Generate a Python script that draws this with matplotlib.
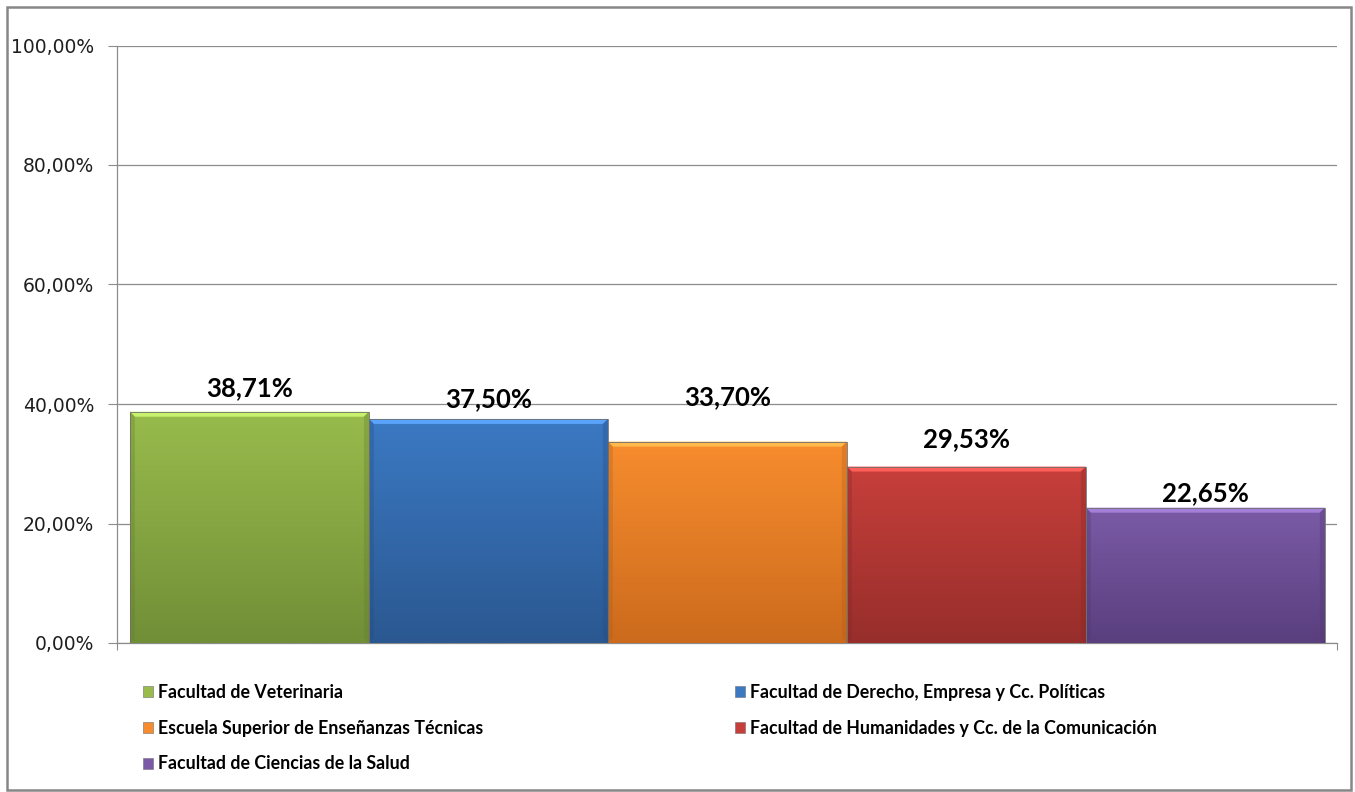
import numpy as np
import matplotlib
matplotlib.use('Agg')
import matplotlib.pyplot as plt
from matplotlib.patches import Patch, Rectangle, Polygon
from matplotlib.colors import to_rgb
from matplotlib.ticker import FuncFormatter

# data
faculties = ["Facultad de Veterinaria",
             "Facultad de Derecho, Empresa y Cc. Políticas",
             "Escuela Superior de Enseñanzas Técnicas",
             "Facultad de Humanidades y Cc. de la Comunicación",
             "Facultad de Ciencias de la Salud"]
values = [38.71, 37.50, 33.70, 29.53, 22.65]
y_ticks = [0, 20, 40, 60, 80, 100]

# styles: top / bottom of the gradient
top_colors = ["#98bb4c", "#3b79c3", "#f78c2e", "#c73f3b", "#7a5aa6"]
bottom_colors = ["#718f37", "#2b5891", "#cc6b1d", "#972e2b", "#5a3f7e"]
label_offsets_px = [24, 20, 45, 27, 15]   # excel put the labels a bit randomly

W, H, DPI = 1355, 792, 100
fig = plt.figure(figsize=(W / DPI, H / DPI), dpi=DPI)
ax = fig.add_axes([117 / W, 1 - 643 / H, (1337 - 117) / W, (643 - 45.5) / H])

x = np.arange(len(values))
bars = ax.bar(x, values, width=1.0, color=top_colors, edgecolor="#6f6f6f",
              linewidth=0.6, zorder=3)

ax.set_xlim(-0.554, 4.551)
ax.set_ylim(0, 100)
ax.set_yticks(y_ticks)
ax.yaxis.set_major_formatter(FuncFormatter(lambda v, p: f"{v:.2f}%".replace(".", ",")))
ax.tick_params(axis="y", length=6.5, width=0.8, color="#8c8c8c", pad=10,
               labelsize=13.5, labelcolor="#1f1f1f")
ax.set_xticks([-0.554, 4.551])
ax.set_xticklabels([])
ax.tick_params(axis="x", length=5, width=0.8, color="#8c8c8c")
ax.grid(axis="y", color="#8c8c8c", linewidth=0.9, zorder=0)
for s in ["top", "right"]:
    ax.spines[s].set_visible(False)
for s in ["left", "bottom"]:
    ax.spines[s].set_color("#8c8c8c")
    ax.spines[s].set_linewidth(0.9)

# gradient fill + bevel on each bar
px_per_val = (643 - 45.5) / 100
px_per_x = (1337 - 117) / (4.551 + 0.554)
for b, c0, c1 in zip(bars, top_colors, bottom_colors):
    x0, w, h = b.get_x(), b.get_width(), b.get_height()
    t = np.linspace(0, 1, 64)[:, None]
    grad = (1 - t) * np.array(to_rgb(c0)) + t * np.array(to_rgb(c1))
    im = ax.imshow(grad[:, None, :].repeat(2, axis=1), extent=[x0, x0 + w, 0, h],
                   aspect="auto", zorder=3.5, interpolation="bilinear")
    im.set_clip_path(b)
    dy = 5 / px_per_val
    dx = 5 / px_per_x
    light = tuple(min(1, v * 1.18 + 0.08) for v in to_rgb(c0))
    ax.add_patch(Polygon([(x0, h), (x0 + w, h), (x0 + w - dx, h - dy), (x0 + dx, h - dy)],
                         closed=True, facecolor=light, edgecolor="none", zorder=3.6))
    dark = tuple(v * 0.85 for v in to_rgb(c1))
    for xa, xb in [(x0 + w, x0 + w - dx), (x0, x0 + dx)]:
        ax.add_patch(Polygon([(xa, h), (xa, 0), (xb, dy), (xb, h - dy)],
                             closed=True, facecolor=dark, edgecolor="none", alpha=0.3,
                             zorder=3.6))
    b.set_zorder(3.7)
    b.set_facecolor("none")

for xi, v, off in zip(x, values, label_offsets_px):
    ax.text(xi, v + off / px_per_val, f"{v:.2f}%".replace(".", ","), ha="center",
            va="center", fontsize=18.5, fontweight="bold", family="Lato", color="black",
            zorder=5)

# legend in two columns, row-major like excel
handles = [Patch(facecolor=c, edgecolor="#6f6f6f", linewidth=0.4) for c in top_colors]
leg_kw = dict(frameon=False, handlelength=0.58, handleheight=0.58,
              handletextpad=0.25, labelspacing=1.05, borderpad=0, borderaxespad=0,
              prop={"family": "Lato", "weight": "bold", "size": 12.8})
fig.legend([handles[0], handles[2], handles[4]], [faculties[0], faculties[2], faculties[4]],
           loc="upper left", bbox_to_anchor=(143 / W, 1 - 684 / H), **leg_kw)
fig.legend([handles[1], handles[3]], [faculties[1], faculties[3]],
           loc="upper left", bbox_to_anchor=(735 / W, 1 - 684 / H), **leg_kw)

# chart border
fig.patches.append(Rectangle((7 / W, 1 - 790 / H), (1351 - 7) / W, (790 - 7) / H,
                             transform=fig.transFigure, fill=False,
                             edgecolor="#878787", linewidth=1.8))

fig.savefig("out.png", dpi=DPI)
